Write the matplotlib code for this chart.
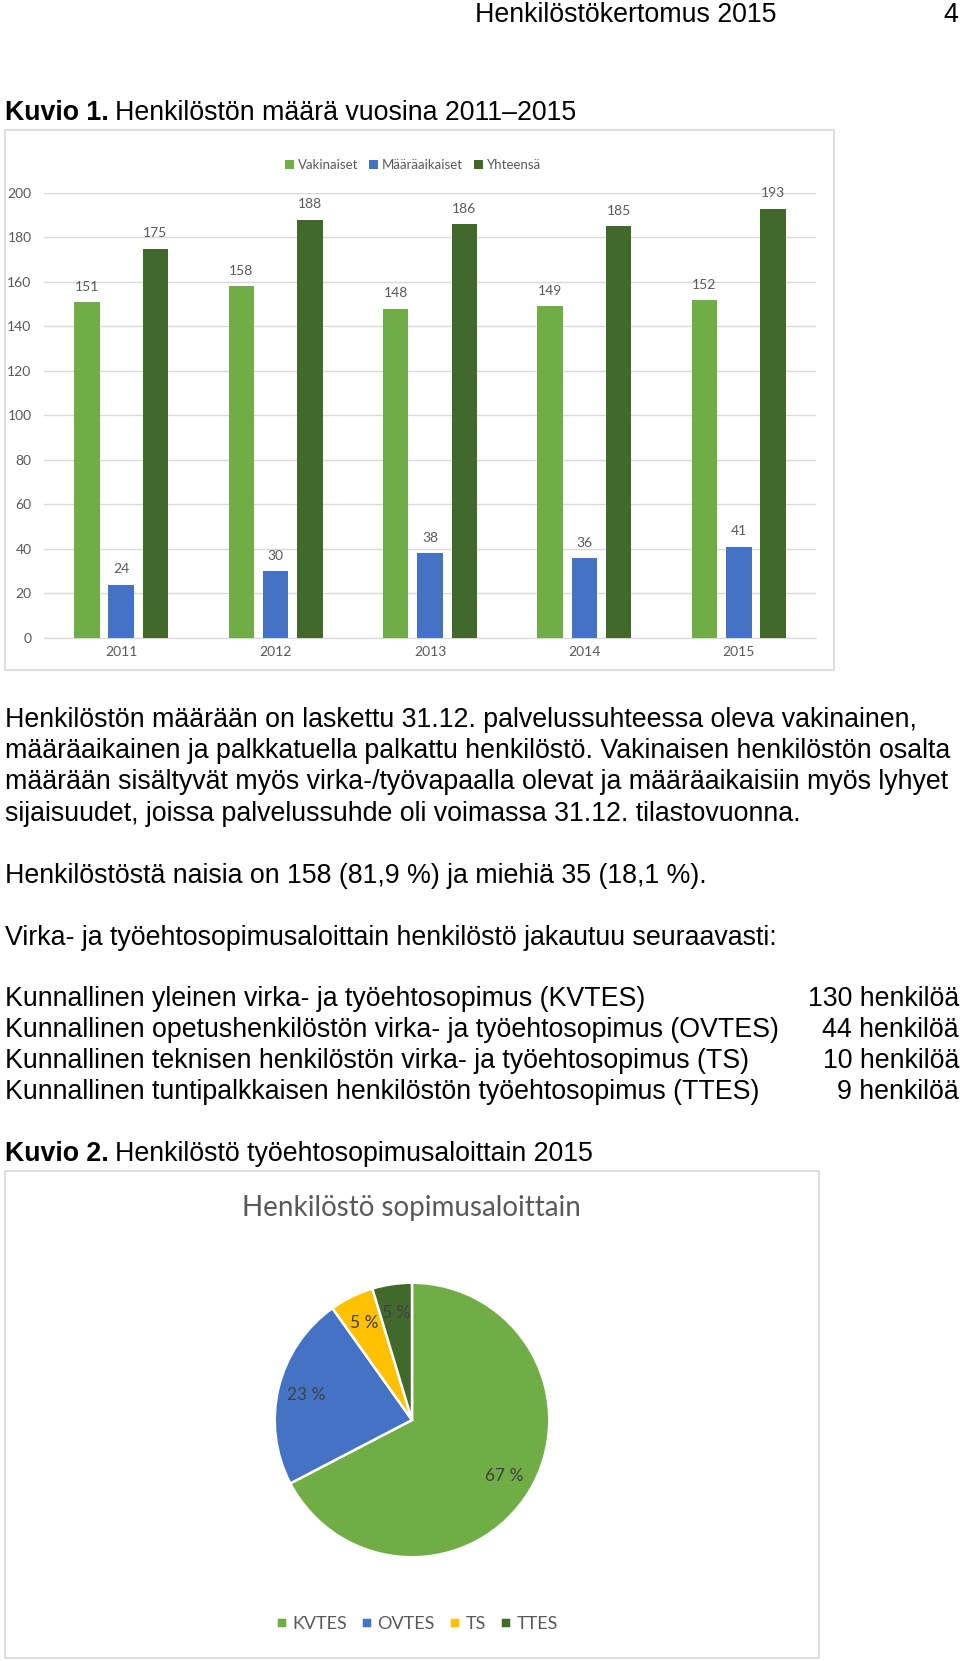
import matplotlib
matplotlib.use("Agg")
import matplotlib.pyplot as plt
from matplotlib.patches import Rectangle

W, H = 960, 1661

years = ["2011", "2012", "2013", "2014", "2015"]
vakinaiset = [151, 158, 148, 149, 152]
maaraaikaiset = [24, 30, 38, 36, 41]
yhteensa = [175, 188, 186, 185, 193]
bar_series = ["Vakinaiset", "Määräaikaiset", "Yhteensä"]

sopimukset = ["KVTES", "OVTES", "TS", "TTES"]
henkiloita = [130, 44, 10, 9]
sopimus_rivit = [
    "Kunnallinen yleinen virka- ja työehtosopimus (KVTES)",
    "Kunnallinen opetushenkilöstön virka- ja työehtosopimus (OVTES)",
    "Kunnallinen teknisen henkilöstön virka- ja työehtosopimus (TS)",
    "Kunnallinen tuntipalkkaisen henkilöstön työehtosopimus (TTES)",
]

teksti1 = [
    "Henkilöstön määrään on laskettu 31.12. palvelussuhteessa oleva vakinainen,",
    "määräaikainen ja palkkatuella palkattu henkilöstö. Vakinaisen henkilöstön osalta",
    "määrään sisältyvät myös virka-/työvapaalla olevat ja määräaikaisiin myös lyhyet",
    "sijaisuudet, joissa palvelussuhde oli voimassa 31.12. tilastovuonna.",
]

c_light = "#70ad47"
c_blue = "#4472c4"
c_dark = "#43682b"
c_yellow = "#ffc000"
grey_txt = "#595959"

doc_font = "Liberation Sans"
chart_font = "Lato"
fs = 19.3


def fx(x):
    return x / W


def fy(y):
    return 1 - y / H


fig = plt.figure(figsize=(W / 100, H / 100), dpi=100)
renderer = fig.canvas.get_renderer()


def put(x, y, s, bold=False, ha="left", size=fs):
    t = fig.text(fx(x), fy(y), s, ha=ha, va="center", fontsize=size,
                 family=doc_font, fontweight="bold" if bold else "normal")
    return t


def caption(y, bold_part, rest):
    t = put(5, y, bold_part, bold=True)
    bb = t.get_window_extent(renderer)
    fig.text(bb.x1 / W + 6 / W, fy(y), rest, ha="left", va="center",
             fontsize=fs, family=doc_font)


# header
put(475, 15, "Henkilöstökertomus 2015")
put(958, 15, "4", ha="right")

caption(113, "Kuvio 1.", "Henkilöstön määrä vuosina 2011–2015")

# chart frames
fig.patches.append(Rectangle((fx(5), fy(670)), fx(829), 540 / H, transform=fig.transFigure,
                             fill=False, edgecolor="#d9d9d9", linewidth=1.2))
fig.patches.append(Rectangle((fx(5), fy(1658)), fx(814), 487 / H, transform=fig.transFigure,
                             fill=False, edgecolor="#d9d9d9", linewidth=1.2))

# bar chart
ax = fig.add_axes([fx(44), fy(638), 772 / W, 445 / H])
x = list(range(len(years)))
bw = 0.165
off = 0.222
for vals, col, lab, d in [(vakinaiset, c_light, bar_series[0], -off),
                          (maaraaikaiset, c_blue, bar_series[1], 0),
                          (yhteensa, c_dark, bar_series[2], off)]:
    bars = ax.bar([i + d for i in x], vals, bw, color=col, label=lab, zorder=3)
    for b, v in zip(bars, vals):
        ax.annotate(str(v), (b.get_x() + b.get_width() / 2, v), xytext=(0, 11),
                    textcoords="offset points", ha="center", va="center",
                    fontsize=10, color=grey_txt, family=chart_font, annotation_clip=False)
ax.set_xlim(-0.5, 4.5)
ax.set_ylim(0, 200)
ax.set_yticks(range(0, 201, 20))
ax.set_xticks(x)
ax.set_xticklabels(years)
ax.grid(axis="y", color="#d9d9d9", linewidth=1, zorder=0)
for s in ["top", "right", "left"]:
    ax.spines[s].set_visible(False)
ax.spines["bottom"].set_color("#d9d9d9")
ax.tick_params(length=0, labelsize=10, labelcolor=grey_txt, pad=6)
ax.tick_params(axis="y", pad=9)
for lab in ax.get_xticklabels() + ax.get_yticklabels():
    lab.set_family(chart_font)
leg = ax.legend(loc="center", bbox_to_anchor=(fx(413), fy(165)), bbox_transform=fig.transFigure,
                ncol=3, frameon=False, handlelength=0.7, handleheight=0.7,
                handletextpad=0.3, columnspacing=0.8,
                prop={"family": chart_font, "size": 9.5})
for t in leg.get_texts():
    t.set_color(grey_txt)

# body text
for i, line in enumerate(teksti1):
    put(5, 720 + i * 31.2, line)
put(5, 876, "Henkilöstöstä naisia on 158 (81,9 %) ja miehiä 35 (18,1 %).")
put(5, 938, "Virka- ja työehtosopimusaloittain henkilöstö jakautuu seuraavasti:")
for i, (rivi, n) in enumerate(zip(sopimus_rivit, henkiloita)):
    yy = 999 + i * 31.1
    put(5, yy, rivi)
    put(959, yy, f"{n} henkilöä", ha="right")

caption(1154, "Kuvio 2.", "Henkilöstö työehtosopimusaloittain 2015")

# pie chart
fig.text(fx(411), fy(1208), "Henkilöstö sopimusaloittain", ha="center", va="center",
         fontsize=20, color=grey_txt, family=chart_font)
pax = fig.add_axes([fx(272), fy(1560), 280 / W, 280 / H])
wedges, texts, autotexts = pax.pie(
    henkiloita, colors=[c_light, c_blue, c_yellow, c_dark], startangle=90, counterclock=False,
    autopct=lambda p: f"{p:.0f} %", pctdistance=0.79, radius=1,
    wedgeprops={"edgecolor": "white", "linewidth": 1.8},
    textprops={"fontsize": 12.5, "color": "#404040", "family": chart_font})
pax.set_xlim(-1.02, 1.02)
pax.set_ylim(-1.02, 1.02)
pax.set_aspect("equal")
pax.legend(wedges, sopimukset, loc="center", bbox_to_anchor=(fx(417), fy(1624)),
           bbox_transform=fig.transFigure, ncol=4, frameon=False,
           handlelength=0.6, handleheight=0.6, handletextpad=0.3, columnspacing=0.8,
           prop={"family": chart_font, "size": 13}, labelcolor=grey_txt)

fig.savefig("out.png", dpi=100)
